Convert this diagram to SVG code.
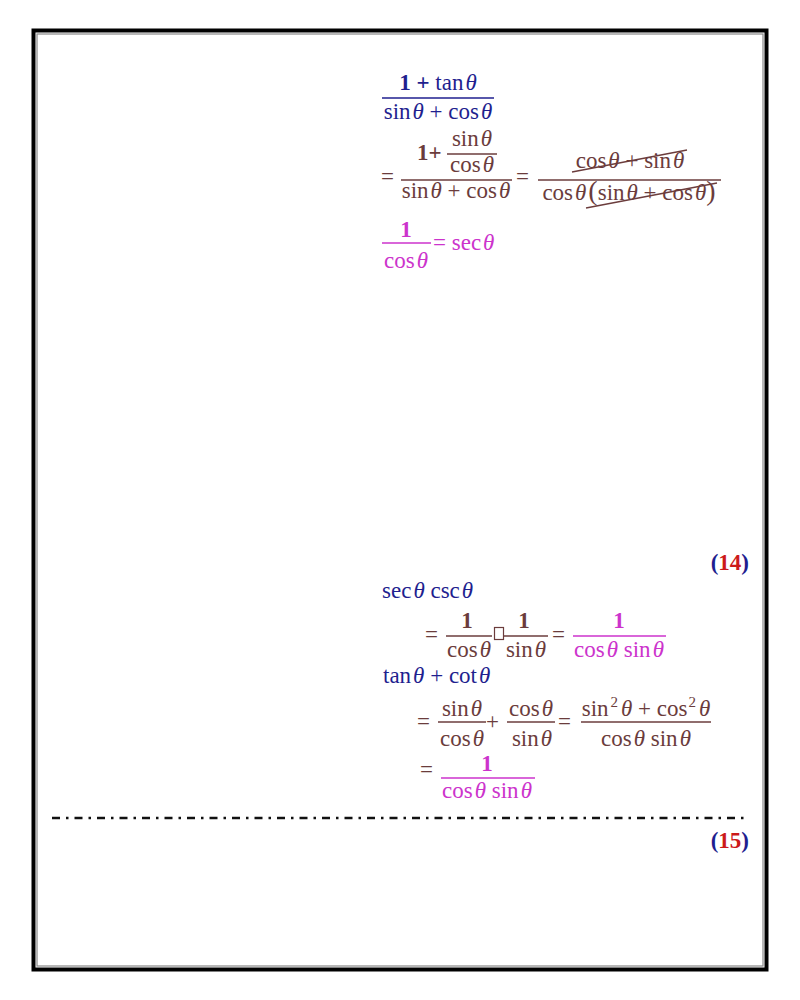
<svg xmlns="http://www.w3.org/2000/svg" width="800" height="1000" viewBox="0 0 800 1000">
<style>
text{font-family:"Liberation Serif","Times New Roman",serif;font-size:23px}
.i{font-style:italic}
.bd{font-weight:bold}
.blue{fill:#1f1f8f}
.br{fill:#6b3c3c}
.mg{fill:#cc33cc}
.red{fill:#cc1a1a}
.fl{stroke-width:1.3}
.lb{stroke:#1f1f8f}
.lr{stroke:#6b3c3c}
.lm{stroke:#cc33cc}
.sup{font-size:15px}
</style>
<rect width="800" height="1000" fill="#fff"/>
<g id="frame">
<rect x="33.5" y="30.5" width="733" height="939" fill="none" stroke="#000" stroke-width="4"/>
<rect x="37" y="34" width="726" height="932" fill="none" stroke="#888" stroke-width="1.2"/>
</g>
<g id="eq1">
<text class="blue" x="438" y="90" text-anchor="middle"><tspan class="bd">1 + </tspan>tan<tspan class="i" dx="2">θ</tspan></text>
<line class="fl lb" x1="382" y1="98" x2="494" y2="98"/>
<text class="blue" x="438" y="119" text-anchor="middle">sin<tspan class="i" dx="2">θ</tspan> + cos<tspan class="i" dx="2">θ</tspan></text>
</g>
<g id="eq2">
<text class="br" x="381" y="184">=</text>
<text class="br bd" x="417" y="160">1+</text>
<text class="br" x="472" y="146" text-anchor="middle">sin<tspan class="i" dx="2">θ</tspan></text>
<line class="fl lr" x1="447" y1="154" x2="497" y2="154"/>
<text class="br" x="472" y="172" text-anchor="middle">cos<tspan class="i" dx="2">θ</tspan></text>
<line class="fl lr" x1="401" y1="180" x2="512" y2="180"/>
<text class="br" x="456" y="198" text-anchor="middle">sin<tspan class="i" dx="2">θ</tspan> + cos<tspan class="i" dx="2">θ</tspan></text>
<text class="br" x="516" y="184">=</text>
<text class="br" x="630" y="168" text-anchor="middle">cos<tspan class="i" dx="2">θ</tspan> + sin<tspan class="i" dx="2">θ</tspan></text>
<line class="fl lr" x1="538" y1="180" x2="721" y2="180"/>
<text class="br" x="629" y="200" text-anchor="middle">cos<tspan class="i" dx="2">θ</tspan><tspan font-size="28" dx="2">(</tspan>sin<tspan class="i" dx="2">θ</tspan> + cos<tspan class="i" dx="2">θ</tspan><tspan font-size="28">)</tspan></text>
<line class="fl lr" x1="572" y1="172" x2="687" y2="150"/>
<line class="fl lr" x1="586" y1="208" x2="717" y2="183"/>
</g>
<g id="eq3">
<text class="mg bd" x="406" y="237" text-anchor="middle">1</text>
<line class="fl lm" x1="382" y1="243" x2="431" y2="243"/>
<text class="mg" x="406" y="268" text-anchor="middle">cos<tspan class="i" dx="2">θ</tspan></text>
<text class="mg" x="433" y="250">= sec<tspan class="i" dx="2">θ</tspan></text>
</g>
<g id="label14">
<text class="blue bd" x="749" y="570" text-anchor="end">(<tspan class="red">14</tspan>)</text>
</g>
<g id="eq4">
<text class="blue" x="382" y="598">sec<tspan class="i" dx="2">θ</tspan> csc<tspan class="i" dx="2">θ</tspan></text>
<text class="br" x="425" y="642">=</text>
<text class="br bd" x="467" y="628" text-anchor="middle">1</text>
<line class="fl lr" x1="446" y1="636" x2="492" y2="636"/>
<text class="br" x="469" y="657" text-anchor="middle">cos<tspan class="i" dx="2">θ</tspan></text>
<rect x="494.5" y="627.5" width="9" height="12" fill="none" stroke="#6b3c3c" stroke-width="1.2"/>
<text class="br bd" x="524" y="628" text-anchor="middle">1</text>
<line class="fl lr" x1="503" y1="636" x2="548" y2="636"/>
<text class="br" x="526" y="657" text-anchor="middle">sin<tspan class="i" dx="2">θ</tspan></text>
<text class="br" x="552" y="642">=</text>
<text class="mg bd" x="619" y="628" text-anchor="middle">1</text>
<line class="fl lm" x1="573" y1="636" x2="666" y2="636"/>
<text class="mg" x="619" y="657" text-anchor="middle">cos<tspan class="i" dx="2">θ</tspan> sin<tspan class="i" dx="2">θ</tspan></text>
</g>
<g id="eq5">
<text class="blue" x="383" y="683">tan<tspan class="i" dx="2">θ</tspan> + cot<tspan class="i" dx="2">θ</tspan></text>
<text class="br" x="417" y="729">=</text>
<text class="br" x="462" y="716" text-anchor="middle">sin<tspan class="i" dx="2">θ</tspan></text>
<line class="fl lr" x1="438" y1="722" x2="486" y2="722"/>
<text class="br" x="462" y="746" text-anchor="middle">cos<tspan class="i" dx="2">θ</tspan></text>
<text class="br" x="486" y="729">+</text>
<text class="br" x="531" y="716" text-anchor="middle">cos<tspan class="i" dx="2">θ</tspan></text>
<line class="fl lr" x1="507" y1="722" x2="555" y2="722"/>
<text class="br" x="532" y="746" text-anchor="middle">sin<tspan class="i" dx="2">θ</tspan></text>
<text class="br" x="558" y="729">=</text>
<text class="br" x="646" y="716" text-anchor="middle">sin<tspan class="sup" dx="2" dy="-9">2</tspan><tspan class="i" dx="3" dy="9">θ</tspan> + cos<tspan class="sup" dx="1" dy="-9">2</tspan><tspan class="i" dx="3" dy="9">θ</tspan></text>
<line class="fl lr" x1="581" y1="722" x2="711" y2="722"/>
<text class="br" x="646" y="746" text-anchor="middle">cos<tspan class="i" dx="2">θ</tspan> sin<tspan class="i" dx="2">θ</tspan></text>
<text class="br" x="420" y="777">=</text>
<text class="mg bd" x="487" y="771" text-anchor="middle">1</text>
<line class="fl lm" x1="441" y1="778" x2="535" y2="778"/>
<text class="mg" x="487" y="798" text-anchor="middle">cos<tspan class="i" dx="2">θ</tspan> sin<tspan class="i" dx="2">θ</tspan></text>
</g>
<g id="separator">
<line x1="52" y1="818" x2="748" y2="818" stroke="#111" stroke-width="2.5" stroke-dasharray="8 6 2.5 6"/>
</g>
<g id="label15">
<text class="blue bd" x="749" y="848" text-anchor="end">(<tspan class="red">15</tspan>)</text>
</g>
</svg>
